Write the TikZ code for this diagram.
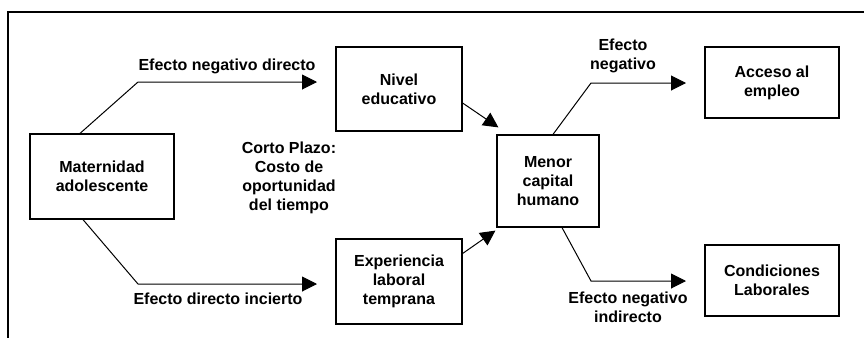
\documentclass[tikz,border=0pt]{standalone}
\usepackage{fontspec}
\setmainfont{Liberation Sans}
\usetikzlibrary{arrows.meta,calc,positioning}

\begin{document}
\begin{tikzpicture}[x=1pt,y=-1pt,>={Triangle[length=15pt,width=15pt]},line width=1pt,
    font=\fontsize{16}{19}\selectfont\bfseries]
  \tikzstyle{every node}=[align=center]
  \tikzstyle{box}=[draw=black,line width=1.2pt,inner sep=0pt]
  \tikzstyle{lbl}=[inner sep=0pt]

  \useasboundingbox (0,0) rectangle (864,338);
  % frame
  \draw[line width=1.5pt] (864,12) -- (8,12) -- (8,338);

  \node[box,minimum width=144pt,minimum height=85pt] (mat) at (102,176.5) {Maternidad\\adolescente};
  \node[box,minimum width=126pt,minimum height=84pt] (niv) at (399,89)    {Nivel\\educativo};
  \node[box,minimum width=126pt,minimum height=85pt] (exp) at (399,281.5) {Experiencia\\laboral\\temprana};
  \node[box,minimum width=102pt,minimum height=92pt] (cap) at (548,181)   {Menor\\capital\\humano};
  \node[box,minimum width=134pt,minimum height=71pt] (acc) at (772,82.5)  {Acceso al\\empleo};
  \node[box,minimum width=134pt,minimum height=71pt] (con) at (772,280.5) {Condiciones\\Laborales};

  \node[lbl] (corto) at (289,178) {Corto Plazo:\\Costo de\\oportunidad\\del tiempo};

  \coordinate (m1) at (138,82);  \coordinate (m2) at (317,82);
  \coordinate (m3) at (138,284); \coordinate (m4) at (317,284);
  \coordinate (c1) at (591,83);  \coordinate (c2) at (686,83);
  \coordinate (c3) at (591,281); \coordinate (c4) at (686,281);

  \draw[->] ($(mat.north)+(-22,0)$) -- (m1) -- (m2);
  \draw[->] ($(mat.south)+(-19,0)$) -- (m3) -- (m4);
  \draw[->] ($(niv.east)+(0,14)$) -- ($(cap.north west)+(2,-7)$);
  \draw[->] ($(exp.east)+(0,-28)$) -- ($(cap.south west)+(-1,3)$);
  \draw[->] ($(cap.north)+(5,0)$) -- (c1) -- (c2);
  \draw[->] ($(cap.south)+(14,0)$) -- (c3) -- (c4);

  \node[lbl] (l1) at (227,66)  {Efecto negativo directo};
  \node[lbl] (l2) at (218,299) {Efecto directo incierto};
  \node[lbl] (l3) at (623,56)  {Efecto\\negativo};
  \node[lbl] (l4) at (628,307) {Efecto negativo\\indirecto};
\end{tikzpicture}
\end{document}
